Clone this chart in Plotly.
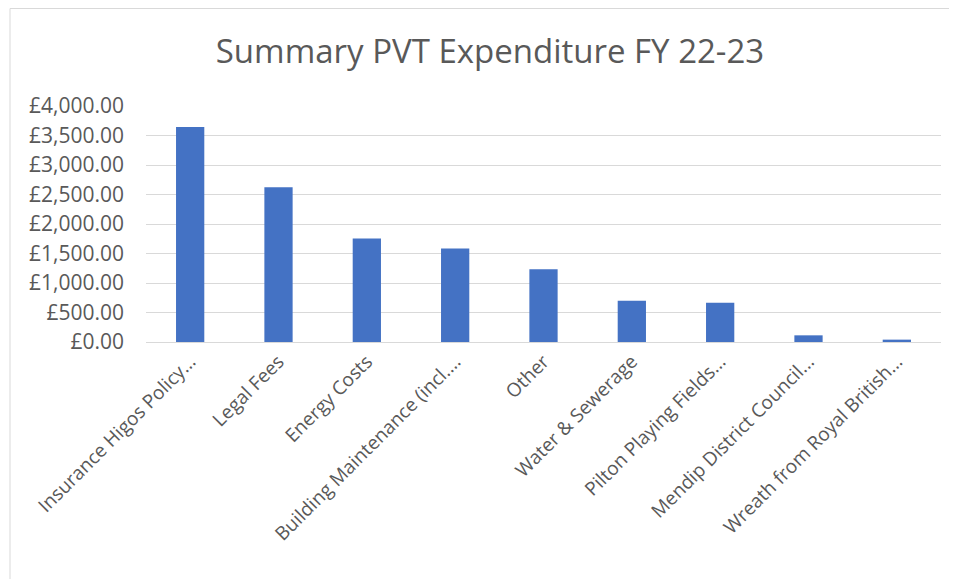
import plotly.graph_objects as go

categories = [
    "Insurance Higos Policy...",
    "Legal Fees",
    "Energy Costs",
    "Building Maintenance (incl....",
    "Other",
    "Water & Sewerage",
    "Pilton Playing Fields...",
    "Mendip District Council...",
    "Wreath from Royal British...",
]
values = [3643, 2624, 1753, 1584, 1233, 701, 667, 113, 40]
y_ticks = [0, 500, 1000, 1500, 2000, 2500, 3000, 3500, 4000]
y_tick_labels = ["£{:,.2f}".format(v) for v in y_ticks]

W, H = 949, 571
L, R, T, B = 138, 16, 98, 237
pw, ph = W - L - R, H - T - B

fig = go.Figure(
    go.Bar(x=categories, y=values, marker=dict(color="#4472C4", line=dict(width=0)), width=0.32)
)

fig.update_layout(
    width=W,
    height=H,
    paper_bgcolor="white",
    plot_bgcolor="white",
    margin=dict(l=L, r=R, t=T, b=B),
    title=dict(
        text="Summary PVT Expenditure FY 22-23",
        x=482 / W,
        xanchor="center",
        y=1 - 43 / H,
        yanchor="middle",
        font=dict(family="Open Sans, Liberation Sans, sans-serif", size=33, color="#595959"),
    ),
    font=dict(family="Open Sans, Liberation Sans, sans-serif", size=19, color="#595959"),
    showlegend=False,
)
fig.update_xaxes(
    automargin=False,
    tickangle=-45,
    showgrid=False,
    showline=True,
    linecolor="#D9D9D9",
    linewidth=1,
    ticks="",
    tickfont=dict(size=19, color="#595959"),
)
fig.update_yaxes(
    automargin=False,
    range=[0, 4000],
    tickvals=y_ticks,
    ticktext=y_tick_labels,
    showgrid=True,
    gridcolor="#D9D9D9",
    gridwidth=1,
    zeroline=False,
    ticks="",
    ticklabelstandoff=21,
    tickfont=dict(size=21, color="#595959"),
)
fig.add_shape(
    type="rect", xref="paper", yref="paper",
    x0=-(L - 2) / pw, x1=1 + (R + 10) / pw, y0=-(B + 10) / ph, y1=1 + (T - 0.5) / ph,
    line=dict(color="#D9D9D9", width=1), fillcolor="rgba(0,0,0,0)", layer="below",
)
fig.write_html("out.html")
